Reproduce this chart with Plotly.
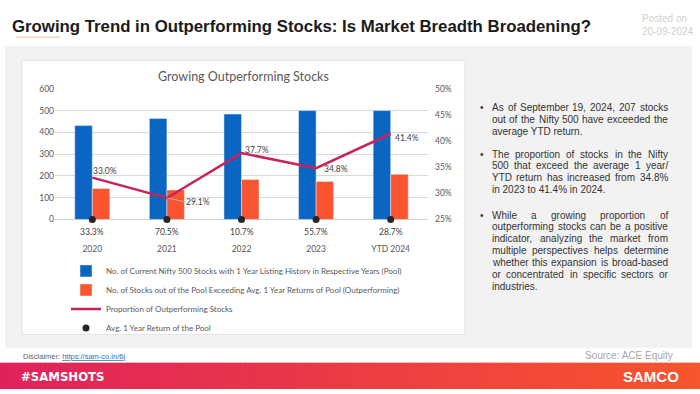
import plotly.graph_objects as go

# ---------------- data ----------------
years = ["2020", "2021", "2022", "2023", "YTD 2024"]
pool = [431, 464, 484, 500, 500]
outperforming = [142, 135, 183, 174, 207]
proportion = [33.0, 29.1, 37.7, 34.8, 41.4]
avg_return = [33.3, 70.5, 10.7, 55.7, 28.7]
left_ticks = [0, 100, 200, 300, 400, 500, 600]
right_ticks = [25, 30, 35, 40, 45, 50]

series_names = [
    "No. of Current Nifty 500 Stocks with 1 Year Listing History in Respective Years (Pool)",
    "No. of Stocks out of the Pool Exceeding Avg. 1 Year Returns of Pool (Outperforming)",
    "Proportion of Outperforming Stocks",
    "Avg. 1 Year Return of the Pool",
]

title_text = "Growing Trend in Outperforming Stocks: Is Market Breadth Broadening?"
chart_title = "Growing Outperforming Stocks"
paragraphs = [
    ["As of September 19, 2024, 207 stocks",
     "out of the Nifty 500 have exceeded the",
     "average YTD return."],
    ["The proportion of stocks in the Nifty",
     "500 that exceed the average 1 year/",
     "YTD return has increased from 34.8%",
     "in 2023 to 41.4% in 2024."],
    ["While a growing proportion of",
     "outperforming stocks can be a positive",
     "indicator, analyzing the market from",
     "multiple perspectives helps determine",
     "whether this expansion is broad-based",
     "or concentrated in specific sectors or",
     "industries."],
]

# ---------------- helpers ----------------
W, H = 700, 394
def px(x):
    return x / W
def py(y):
    return 1 - y / H

BLUE = "#0A66C2"
ORANGE = "#FA5530"
CRIMSON = "#C8235A"
AXIS_GRAY = "#595959"
CHART_FONT = "Lato, Carlito, Liberation Sans, sans-serif"

fig = go.Figure()

fig.add_trace(go.Bar(x=years, y=pool, name=series_names[0], marker_color=BLUE))
fig.add_trace(go.Bar(x=years, y=outperforming, name=series_names[1], marker_color=ORANGE))
fig.add_trace(go.Scatter(x=years, y=proportion, name=series_names[2], yaxis="y2",
                         mode="lines", line=dict(color=CRIMSON, width=2.5)))
fig.add_trace(go.Scatter(x=years, y=[0] * len(years), name=series_names[3],
                         mode="markers", marker=dict(color="#262626", size=7),
                         cliponaxis=False))

shapes = []
# gray panel
shapes.append(dict(type="rect", xref="paper", yref="paper", x0=px(5), x1=px(692),
                   y0=py(352), y1=py(42), fillcolor="#F2F2F2", line=dict(width=0), layer="below"))
# white chart box
shapes.append(dict(type="rect", xref="paper", yref="paper", x0=px(22), x1=px(465),
                   y0=py(338), y1=py(57), fillcolor="#FFFFFF",
                   line=dict(color="#E3E3E3", width=1), layer="below"))
# title underline
shapes.append(dict(type="line", xref="paper", yref="paper", x0=px(16), x1=px(60),
                   y0=py(33), y1=py(33), line=dict(color="#F3DCC6", width=2)))
# footer gradient band
c0 = (0xE0, 0x22, 0x5C)
c1 = (0xF7, 0x55, 0x2D)
n = 140
for i in range(n):
    t = i / (n - 1)
    col = "rgb(%d,%d,%d)" % tuple(round(a + (b - a) * t) for a, b in zip(c0, c1))
    shapes.append(dict(type="rect", xref="paper", yref="paper",
                       x0=px(W * i / n), x1=px(W * (i + 1) / n) + 0.001,
                       y0=0, y1=py(367), fillcolor=col, line=dict(width=0), layer="below"))

def ann(**kw):
    base = dict(showarrow=False, borderpad=0, borderwidth=0)
    base.update(kw)
    return base

annotations = []
# main title
annotations.append(ann(text="<b>" + title_text + "</b>", x=px(12), y=py(22), xref="paper", yref="paper",
                       xanchor="left", yanchor="middle",
                       font=dict(family="Liberation Sans, Arial", size=16.8, color="#1A1A1A")))
annotations.append(ann(text="Posted on<br>20-09-2024", x=px(642), y=py(21), xref="paper", yref="paper",
                       xanchor="left", yanchor="middle", align="left",
                       font=dict(family="Liberation Sans", size=10, color="#CFCFCF")))
# chart title
annotations.append(ann(text=chart_title, x=px(243.5), y=py(73), xref="paper", yref="paper",
                       xanchor="center", yanchor="middle",
                       font=dict(family=CHART_FONT, size=12.5, color=AXIS_GRAY)))

# line data labels
shifts = [(1, 7), None, (3, 3), (8, -1), (4, -4)]
for i, v in enumerate(proportion):
    if shifts[i] is None:
        annotations.append(dict(text="%.1f%%" % v, x=i, y=v, xref="x", yref="y2",
                                showarrow=True, arrowhead=0, arrowwidth=0.8, arrowcolor="#BFBFBF",
                                ax=19, ay=4, xanchor="left", yanchor="middle",
                                borderpad=0, borderwidth=0,
                                font=dict(family=CHART_FONT, size=8.5, color="#404040")))
    else:
        annotations.append(ann(text="%.1f%%" % v, x=i, y=v, xref="x", yref="y2",
                               xanchor="left", yanchor="middle",
                               xshift=shifts[i][0], yshift=shifts[i][1],
                               font=dict(family=CHART_FONT, size=8.5, color="#404040")))
# avg return labels below dots
for i, v in enumerate(avg_return):
    annotations.append(ann(text="%.1f%%" % v, x=i, y=0, xref="x", yref="y",
                           xanchor="center", yanchor="middle", yshift=-13,
                           font=dict(family=CHART_FONT, size=8.5, color="#404040")))

# right text panel with justified lines
ARIAL = {' ': 278, '!': 278, ',': 278, '-': 333, '.': 278, '/': 278, ':': 278, ';': 278, '?': 556, '%': 889,
         'A': 667, 'B': 667, 'C': 722, 'D': 722, 'E': 667, 'F': 611, 'G': 778, 'H': 722, 'I': 278, 'J': 500,
         'K': 667, 'L': 556, 'M': 833, 'N': 722, 'O': 778, 'P': 667, 'Q': 778, 'R': 722, 'S': 667, 'T': 611,
         'U': 722, 'V': 667, 'W': 944, 'X': 667, 'Y': 667, 'Z': 611,
         'a': 556, 'b': 556, 'c': 500, 'd': 556, 'e': 556, 'f': 278, 'g': 556, 'h': 556, 'i': 222, 'j': 222,
         'k': 500, 'l': 222, 'm': 833, 'n': 556, 'o': 556, 'p': 556, 'q': 556, 'r': 333, 's': 500, 't': 278,
         'u': 556, 'v': 500, 'w': 722, 'x': 500, 'y': 500, 'z': 500}
FS = 10
def wlen(s):
    return sum(ARIAL.get(c, 556) for c in s) * FS / 1000.0

TX0, TX1 = 492, 668
para_y = [105, 153, 215.5]
step = 12.15
txt_font = dict(family="Liberation Sans, Arial", size=FS, color="#333333")
for p, lines in enumerate(paragraphs):
    annotations.append(ann(text="•", x=px(480), y=py(para_y[p]), xref="paper", yref="paper",
                           xanchor="left", yanchor="middle", font=txt_font))
    for j, line in enumerate(lines):
        yy = py(para_y[p] + j * step)
        if j == len(lines) - 1:
            annotations.append(ann(text=line, x=px(TX0), y=yy, xref="paper", yref="paper",
                                   xanchor="left", yanchor="middle", font=txt_font))
            continue
        words = line.split(" ")
        total = sum(wlen(w) for w in words)
        gap = (TX1 - TX0 - total) / (len(words) - 1)
        xcur = TX0
        for w in words:
            annotations.append(ann(text=w, x=px(xcur), y=yy, xref="paper", yref="paper",
                                   xanchor="left", yanchor="middle", font=txt_font))
            xcur += wlen(w) + gap

# footer texts
annotations.append(ann(text="Disclaimer: <a href='https://sam-co.in/6j' style='color:#2F6DB5'><u>https://sam-co.in/6j</u></a>",
                       x=px(23), y=py(361), xref="paper", yref="paper", xanchor="left", yanchor="middle",
                       font=dict(family="Liberation Sans", size=7.5, color="#666666")))
annotations.append(ann(text="Source: ACE Equity", x=px(673), y=py(360), xref="paper", yref="paper",
                       xanchor="right", yanchor="middle",
                       font=dict(family="Liberation Sans", size=10, color="#A6A6A6")))
annotations.append(ann(text="<b>#SAMSHOTS</b>", x=px(21), y=py(381), xref="paper", yref="paper",
                       xanchor="left", yanchor="middle",
                       font=dict(family="DejaVu Sans Condensed, Liberation Sans Narrow, Liberation Sans", size=13, color="#FFFFFF")))
annotations.append(ann(text="<b>SAMCO</b>", x=px(679), y=py(381), xref="paper", yref="paper",
                       xanchor="right", yanchor="middle",
                       font=dict(family="Liberation Sans", size=15, color="#FFFFFF")))

fig.update_layout(
    width=W, height=H,
    margin=dict(l=0, r=0, t=0, b=0),
    paper_bgcolor="#FFFFFF", plot_bgcolor="rgba(0,0,0,0)",
    barmode="group", bargap=0.53, bargroupgap=0,
    shapes=shapes, annotations=annotations,
    showlegend=True,
    legend=dict(x=px(66), y=py(258), xanchor="left", yanchor="top", orientation="v",
                bgcolor="rgba(0,0,0,0)", font=dict(family=CHART_FONT, size=8, color=AXIS_GRAY),
                traceorder="normal"),
    xaxis=dict(domain=[px(55), px(428)], type="category", range=[-0.5, len(years) - 0.5],
               showgrid=False, showline=False, ticks="", ticklabelstandoff=23,
               tickfont=dict(family=CHART_FONT, size=8.5, color=AXIS_GRAY)),
    yaxis=dict(domain=[py(220), py(86)], range=[0, 600], tickvals=left_ticks,
               showgrid=True, gridcolor="#D9D9D9", gridwidth=1,
               zeroline=True, zerolinecolor="#D0D0D0", zerolinewidth=1, showline=False,
               ticks="", tickfont=dict(family=CHART_FONT, size=8.5, color=AXIS_GRAY)),
    yaxis2=dict(overlaying="y", side="right", range=[25, 50], tickvals=right_ticks,
                ticktext=["%d%%" % v for v in right_ticks], ticklabelstandoff=6,
                showgrid=False, zeroline=False, showline=False, ticks="",
                tickfont=dict(family=CHART_FONT, size=8.5, color=AXIS_GRAY)),
)

fig.write_html("out.html", config={"displayModeBar": False},
               post_script="document.body.style.margin='0';document.body.style.padding='0';"
                           "document.documentElement.style.overflow='hidden';")
